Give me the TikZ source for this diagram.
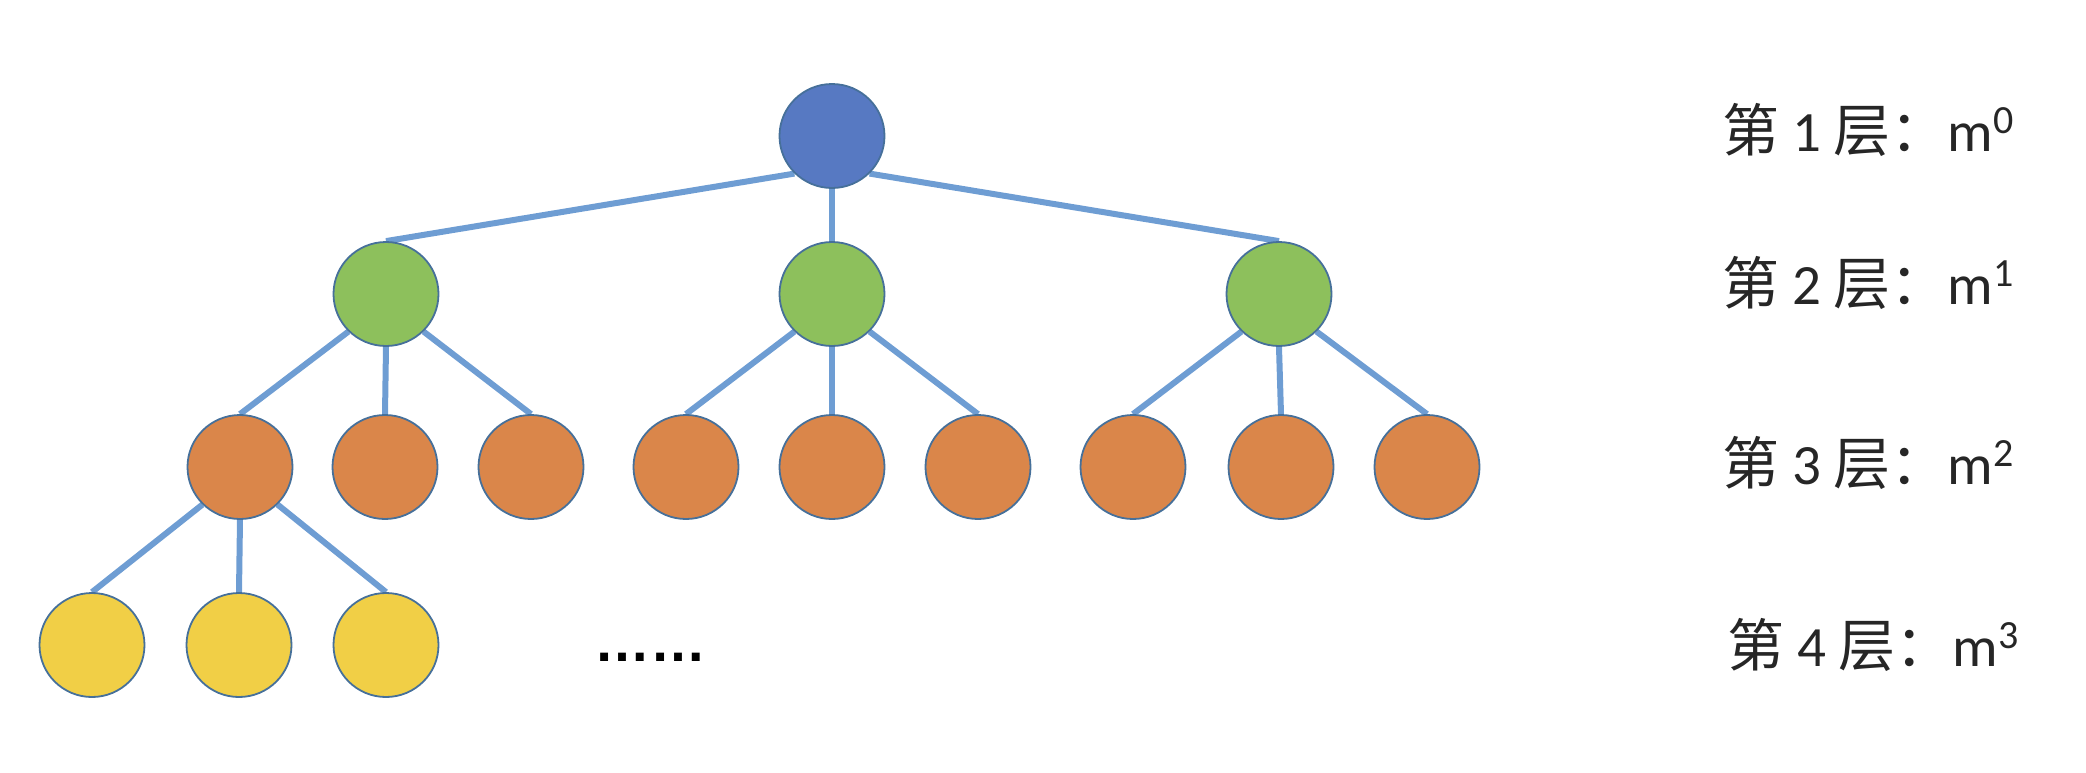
\documentclass[tikz,border=0pt]{standalone}
\usepackage{fontspec}
\setmainfont{Carlito}
\newfontfamily\cjk{Noto Sans CJK SC}
\newfontfamily\dotsfont{Liberation Sans}
\usetikzlibrary{shapes.geometric,backgrounds}

\definecolor{linkblue}{HTML}{6E9DD3}
\definecolor{rimblue}{HTML}{46709A}
\definecolor{rootfill}{HTML}{5779C2}
\definecolor{twofill}{HTML}{8DC05C}
\definecolor{threefill}{HTML}{DA864A}
\definecolor{fourfill}{HTML}{F1CF46}

\tikzset{
  ball/.style={ellipse, draw=rimblue, line width=1.8pt, inner sep=0pt,
               minimum width=105pt, minimum height=104pt},
  lvlone/.style={ball, fill=rootfill},
  lvltwo/.style={ball, fill=twofill},
  lvlthree/.style={ball, fill=threefill},
  lvlfour/.style={ball, fill=fourfill},
  link/.style={draw=linkblue, line width=6pt},
  layertext/.style={anchor=base west, inner sep=0pt, text=black!85,
                    font=\fontsize{57}{60}\selectfont}
}

\newcommand{\supnum}[1]{\raisebox{18pt}{\fontsize{40}{40}\selectfont #1}}

\begin{document}
\begin{tikzpicture}[x=1pt, y=-1pt]
  \useasboundingbox (0,0) rectangle (2086,772);

  % level 1
  \node[lvlone] (r) at (832,136) {};

  % level 2
  \node[lvltwo] (a) at (386,294) {};
  \node[lvltwo] (b) at (832,294) {};
  \node[lvltwo] (c) at (1279,294) {};

  % level 3
  \node[lvlthree] (a1) at (240,467) {};
  \node[lvlthree] (a2) at (385,467) {};
  \node[lvlthree] (a3) at (531,467) {};
  \node[lvlthree] (b1) at (686,467) {};
  \node[lvlthree] (b2) at (832,467) {};
  \node[lvlthree] (b3) at (978,467) {};
  \node[lvlthree] (c1) at (1133,467) {};
  \node[lvlthree] (c2) at (1281,467) {};
  \node[lvlthree] (c3) at (1427,467) {};

  % level 4
  \node[lvlfour] (d1) at (92,645) {};
  \node[lvlfour] (d2) at (239,645) {};
  \node[lvlfour] (d3) at (386,645) {};

  % connectors, behind the balls
  \begin{pgfonlayer}{background}
    \draw[link] (r.225) -- (a.north);
    \draw[link] (r.south) -- (b.north);
    \draw[link] (r.315) -- (c.north);
    \foreach \p in {a,b,c}{
      \draw[link] (\p.225) -- (\p1.north);
      \draw[link] (\p.south) -- (\p2.north);
      \draw[link] (\p.315) -- (\p3.north);
    }
    \draw[link] (a1.225) -- (d1.north);
    \draw[link] (a1.south) -- (d2.north);
    \draw[link] (a1.315) -- (d3.north);
  \end{pgfonlayer}

  % ellipsis for the rest of level 4
  \node[anchor=base west, inner sep=0pt, font=\dotsfont\bfseries\fontsize{56}{60}\selectfont]
    (more) at (594,661) {……};

  % layer labels
  \node[layertext] (t1) at (1722,151) {{\cjk 第} 1 {\cjk 层：}m\supnum{0}};
  \node[layertext] (t2) at (1722,304) {{\cjk 第} 2 {\cjk 层：}m\supnum{1}};
  \node[layertext] (t3) at (1722,484) {{\cjk 第} 3 {\cjk 层：}m\supnum{2}};
  \node[layertext] (t4) at (1727,666) {{\cjk 第} 4 {\cjk 层：}m\supnum{3}};
\end{tikzpicture}
\end{document}
